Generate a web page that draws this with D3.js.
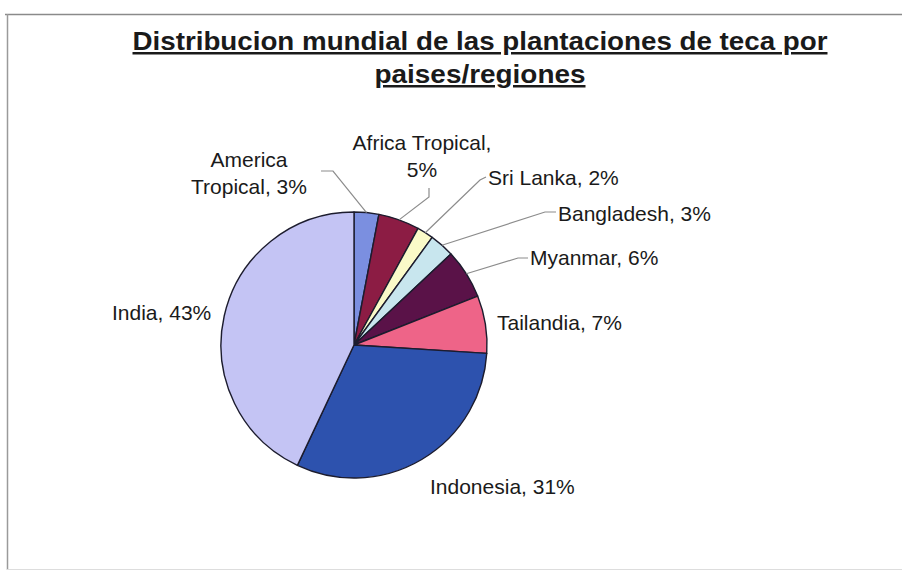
<!DOCTYPE html>
<html>
<head>
<meta charset="utf-8">
<script src="https://cdn.jsdelivr.net/npm/d3@7/dist/d3.min.js"></script>
<style>
  html, body { margin: 0; padding: 0; background: #fff; }
  svg { display: block; }
  text { font-family: "Liberation Sans", Arial, sans-serif; fill: #1a1a1a; }
</style>
</head>
<body>
<svg id="chart" width="902" height="572"></svg>
<script>
// Teak plantation share by country/region (percent)
const categories = ["America Tropical", "Africa Tropical", "Sri Lanka", "Bangladesh",
                    "Myanmar", "Tailandia", "Indonesia", "India"];
const shares = [3, 5, 2, 3, 6, 7, 31, 43];
const sliceColors = ["#7b8fe0", "#8c1c44", "#fafac8", "#c8e6ee",
                     "#5a1248", "#ee6488", "#2d52ae", "#c4c4f4"];
const titleLines = ["Distribucion mundial de las plantaciones de teca por", "paises/regiones"];

// Label placement for each slice: text lines, anchor point and optional leader path
const labelLayout = {
  "America Tropical": { lines: ["America", "Tropical, 3%"], x: 249, y: 167, anchor: "middle", lead: [[321, 171], [333, 171]] },
  "Africa Tropical":  { lines: ["Africa Tropical,", "5%"], x: 422, y: 150, anchor: "middle", lead: [[429, 188], [429, 197]] },
  "Sri Lanka":        { lines: ["Sri Lanka, 2%"], x: 488, y: 185, anchor: "start", lead: [[486, 177], [480, 180]] },
  "Bangladesh":       { lines: ["Bangladesh, 3%"], x: 558, y: 221, anchor: "start", lead: [[556, 212], [545, 212]] },
  "Myanmar":          { lines: ["Myanmar, 6%"], x: 530, y: 265, anchor: "start", lead: [[528, 258], [518, 258]] },
  "Tailandia":        { lines: ["Tailandia, 7%"], x: 497, y: 330, anchor: "start", lead: null },
  "Indonesia":        { lines: ["Indonesia, 31%"], x: 430, y: 494, anchor: "start", lead: null },
  "India":            { lines: ["India, 43%"], x: 112, y: 320, anchor: "start", lead: null }
};

const svg = d3.select("#chart");
const cx = 354, cy = 345, radius = 133;

// Frame lines of the chart area
svg.append("line").attr("x1", 5).attr("x2", 902).attr("y1", 14.5).attr("y2", 14.5)
  .attr("stroke", "#8a8a8a").attr("stroke-width", 1.5);
svg.append("line").attr("x1", 7.5).attr("x2", 7.5).attr("y1", 14).attr("y2", 570)
  .attr("stroke", "#9a9a9a").attr("stroke-width", 1.5);
svg.append("line").attr("x1", 7).attr("x2", 902).attr("y1", 569.5).attr("y2", 569.5)
  .attr("stroke", "#dddddd").attr("stroke-width", 1);

// Title, bold and underlined, stretched to its line width
const title = svg.append("g");
const titleY = [50, 83];
const titleWidth = [695, 211];
titleLines.forEach((t, i) => {
  title.append("text")
    .attr("x", 480).attr("y", titleY[i])
    .attr("text-anchor", "middle")
    .attr("textLength", titleWidth[i])
    .attr("lengthAdjust", "spacingAndGlyphs")
    .style("font-size", "25px").style("font-weight", "bold")
    .style("text-decoration", "underline")
    .text(t);
});

// Pie, starting at 12 o'clock and running clockwise
const pie = d3.pie().sort(null).value(d => d.v).startAngle(0).endAngle(2 * Math.PI);
const data = pie(categories.map((c, i) => ({ c, v: shares[i], color: sliceColors[i] })));
const arc = d3.arc().innerRadius(0).outerRadius(radius);
const rim = d3.arc().innerRadius(radius).outerRadius(radius);

const g = svg.append("g").attr("transform", `translate(${cx},${cy})`);
g.selectAll("path.slice").data(data).join("path")
  .attr("class", "slice")
  .attr("d", arc)
  .attr("fill", d => d.data.color)
  .attr("stroke", "#1c1c2e")
  .attr("stroke-width", 1.4)
  .attr("stroke-linejoin", "round");

// Leader lines from labels to the slice rim
data.forEach(d => {
  const L = labelLayout[d.data.c];
  if (!L.lead) return;
  const [px, py] = rim.centroid(d);
  const pts = L.lead.concat([[cx + px, cy + py]]);
  svg.append("path")
    .attr("d", d3.line()(pts))
    .attr("fill", "none")
    .attr("stroke", "#8c8c8c")
    .attr("stroke-width", 1.2);
});

// Data labels
data.forEach(d => {
  const L = labelLayout[d.data.c];
  const t = svg.append("text")
    .attr("text-anchor", L.anchor)
    .style("font-size", "21px");
  L.lines.forEach((line, i) => {
    t.append("tspan").attr("x", L.x).attr("y", L.y + i * 27).text(line);
  });
});
</script>
</body>
</html>
